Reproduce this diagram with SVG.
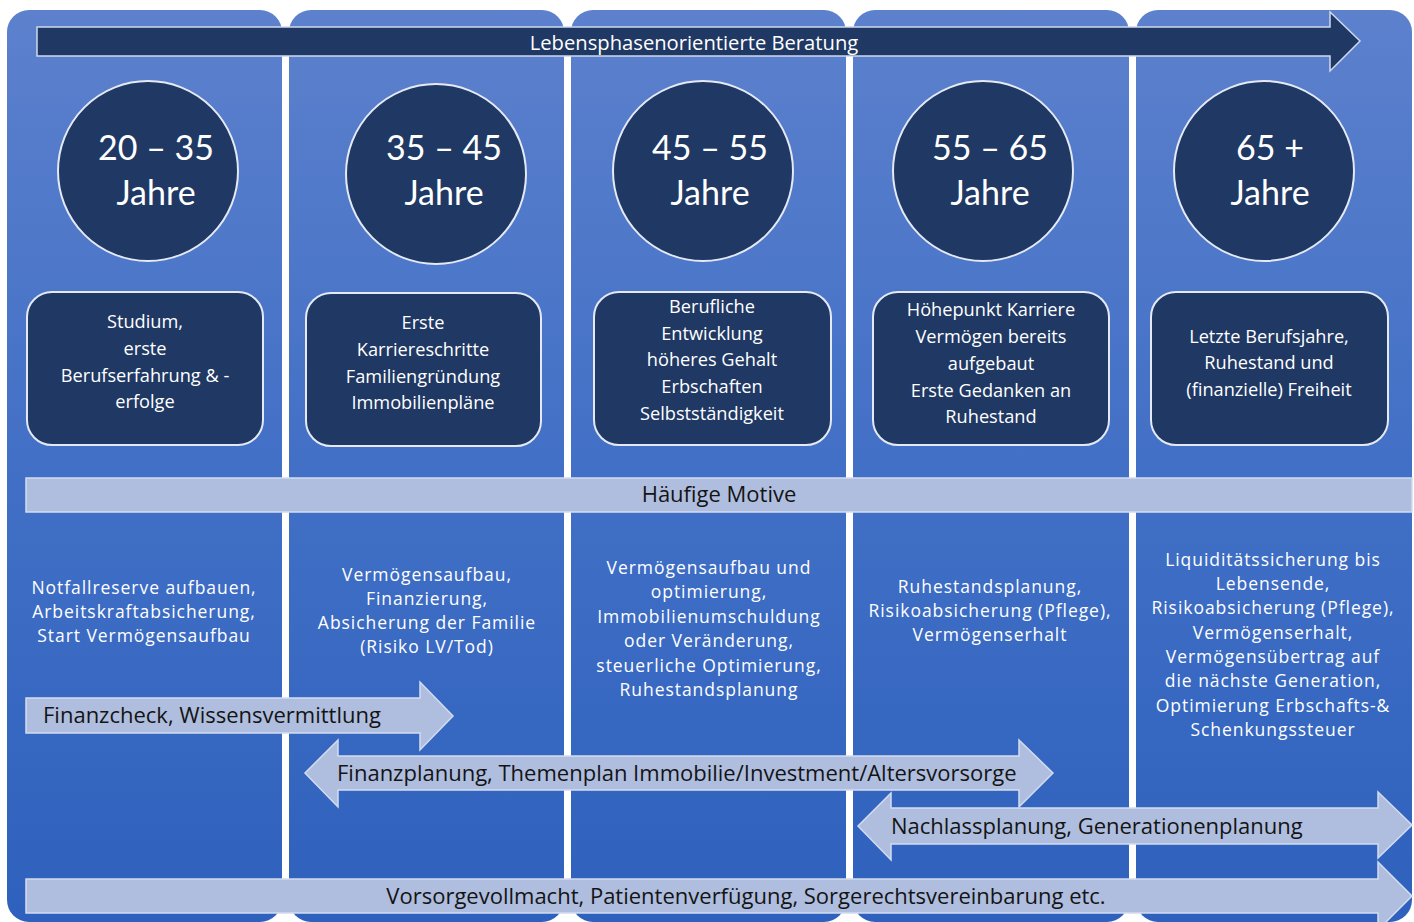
<svg xmlns="http://www.w3.org/2000/svg" width="1414" height="922" viewBox="0 0 1414 922">
<defs>
<linearGradient id="colg" gradientUnits="userSpaceOnUse" x1="0" y1="0" x2="0" y2="922">
<stop offset="0" stop-color="#5d81cd"/>
<stop offset="0.5" stop-color="#4270c6"/>
<stop offset="1" stop-color="#2e61bd"/>
</linearGradient>
<style>
.col{fill:url(#colg);}
.dark{fill:#1f3864;stroke:#e4e9f4;stroke-width:2;}
.light{fill:#afbedf;stroke:#d3dbef;stroke-width:1.5;}
text{font-family:"Open Sans","Noto Sans",sans-serif;}
.wt{fill:#ffffff;text-anchor:middle;}
.age{font-size:34px;font-family:Lato,"Open Sans",sans-serif;}
.box{font-size:18.2px;}
.mot{font-size:17.5px;letter-spacing:0.95px;}
.bk{fill:#141414;font-size:22px;}
.mid{text-anchor:middle;}
</style>
</defs>
<rect width="1414" height="922" fill="#ffffff"/>
<g id="columns">
<rect class="col" x="7" y="10" width="275" height="912" rx="22"/>
<rect class="col" x="289" y="10" width="275" height="912" rx="22"/>
<rect class="col" x="571" y="10" width="275" height="912" rx="22"/>
<rect class="col" x="853" y="10" width="276" height="912" rx="22"/>
<rect class="col" x="1136" y="10" width="276" height="912" rx="22"/>
</g>
<g id="header-arrow">
<path class="dark" style="stroke:#cfd8ec;stroke-width:1.5" d="M37,27 H1330 V12 L1360,41 L1330,71 V56 H37 Z"/>
<text class="wt" x="694" y="50" font-size="20.2">Lebensphasenorientierte Beratung</text>
</g>
<g id="age-20-35">
<circle class="dark" cx="148" cy="171" r="90"/>
<text class="wt age" x="156" y="160">20 – 35</text>
<text class="wt age" x="156" y="205">Jahre</text>
</g>
<g id="age-35-45">
<circle class="dark" cx="436" cy="174" r="90"/>
<text class="wt age" x="444" y="160">35 – 45</text>
<text class="wt age" x="444" y="205">Jahre</text>
</g>
<g id="age-45-55">
<circle class="dark" cx="703" cy="171" r="90"/>
<text class="wt age" x="710" y="160">45 – 55</text>
<text class="wt age" x="710" y="205">Jahre</text>
</g>
<g id="age-55-65">
<circle class="dark" cx="983" cy="171" r="90"/>
<text class="wt age" x="990" y="160">55 – 65</text>
<text class="wt age" x="990" y="205">Jahre</text>
</g>
<g id="age-65plus">
<circle class="dark" cx="1264" cy="171" r="90"/>
<text class="wt age" x="1270" y="160">65 +</text>
<text class="wt age" x="1270" y="205">Jahre</text>
</g>
<g id="phase-1">
<rect class="dark" x="27" y="292" width="236" height="153" rx="25"/>
<text class="wt box" x="145" y="328">Studium,</text>
<text class="wt box" x="145" y="355">erste</text>
<text class="wt box" x="145" y="382">Berufserfahrung &amp; -</text>
<text class="wt box" x="145" y="408">erfolge</text>
</g>
<g id="phase-2">
<rect class="dark" x="306" y="293" width="235" height="153" rx="25"/>
<text class="wt box" x="423" y="329">Erste</text>
<text class="wt box" x="423" y="356">Karriereschritte</text>
<text class="wt box" x="423" y="383">Familiengründung</text>
<text class="wt box" x="423" y="409">Immobilienpläne</text>
</g>
<g id="phase-3">
<rect class="dark" x="594" y="292" width="237" height="153" rx="25"/>
<text class="wt box" x="712" y="313">Berufliche</text>
<text class="wt box" x="712" y="340">Entwicklung</text>
<text class="wt box" x="712" y="366">höheres Gehalt</text>
<text class="wt box" x="712" y="393">Erbschaften</text>
<text class="wt box" x="712" y="420">Selbstständigkeit</text>
</g>
<g id="phase-4">
<rect class="dark" x="873" y="292" width="236" height="153" rx="25"/>
<text class="wt box" x="991" y="316">Höhepunkt Karriere</text>
<text class="wt box" x="991" y="343">Vermögen bereits</text>
<text class="wt box" x="991" y="370">aufgebaut</text>
<text class="wt box" x="991" y="397">Erste Gedanken an</text>
<text class="wt box" x="991" y="423">Ruhestand</text>
</g>
<g id="phase-5">
<rect class="dark" x="1151" y="292" width="237" height="153" rx="25"/>
<text class="wt box" x="1269" y="343">Letzte Berufsjahre,</text>
<text class="wt box" x="1269" y="369">Ruhestand und</text>
<text class="wt box" x="1269" y="396">(finanzielle) Freiheit</text>
</g>
<g id="motive-bar">
<rect class="light" x="26" y="478" width="1386" height="34"/>
<text class="bk mid" x="719" y="502">Häufige Motive</text>
</g>
<g id="motive-1">
<text class="wt mot" x="144" y="594">Notfallreserve aufbauen,</text>
<text class="wt mot" x="144" y="618">Arbeitskraftabsicherung,</text>
<text class="wt mot" x="144" y="642">Start Vermögensaufbau</text>
</g>
<g id="motive-2">
<text class="wt mot" x="427" y="581">Vermögensaufbau,</text>
<text class="wt mot" x="427" y="605">Finanzierung,</text>
<text class="wt mot" x="427" y="629">Absicherung der Familie</text>
<text class="wt mot" x="427" y="653">(Risiko LV/Tod)</text>
</g>
<g id="motive-3">
<text class="wt mot" x="709" y="574">Vermögensaufbau und</text>
<text class="wt mot" x="709" y="598">optimierung,</text>
<text class="wt mot" x="709" y="623">Immobilienumschuldung</text>
<text class="wt mot" x="709" y="647">oder Veränderung,</text>
<text class="wt mot" x="709" y="672">steuerliche Optimierung,</text>
<text class="wt mot" x="709" y="696">Ruhestandsplanung</text>
</g>
<g id="motive-4">
<text class="wt mot" x="990" y="593">Ruhestandsplanung,</text>
<text class="wt mot" x="990" y="617">Risikoabsicherung (Pflege),</text>
<text class="wt mot" x="990" y="641">Vermögenserhalt</text>
</g>
<g id="motive-5">
<text class="wt mot" x="1273" y="566">Liquiditätssicherung bis</text>
<text class="wt mot" x="1273" y="590">Lebensende,</text>
<text class="wt mot" x="1273" y="614">Risikoabsicherung (Pflege),</text>
<text class="wt mot" x="1273" y="639">Vermögenserhalt,</text>
<text class="wt mot" x="1273" y="663">Vermögensübertrag auf</text>
<text class="wt mot" x="1273" y="687">die nächste Generation,</text>
<text class="wt mot" x="1273" y="712">Optimierung Erbschafts-&amp;</text>
<text class="wt mot" x="1273" y="736">Schenkungssteuer</text>
</g>
<g id="connectors">
<g id="arrow-finanzcheck">
<path class="light" d="M26,698 H420 V682 L453,716 L420,750 V733 H26 Z"/>
<text class="bk" x="43" y="723">Finanzcheck, Wissensvermittlung</text>
</g>
<g id="arrow-finanzplanung">
<path class="light" d="M305,773 L338,740 V756 H1019 V740 L1053,773 L1019,807 V790 H338 V807 Z"/>
<text class="bk" x="337" y="781">Finanzplanung, Themenplan Immobilie/Investment/Altersvorsorge</text>
</g>
<g id="arrow-nachlass">
<path class="light" d="M858,826 L891,793 V808 H1378 V792 L1412,825 L1378,858 V844 H891 V860 Z"/>
<text class="bk" x="891" y="834">Nachlassplanung, Generationenplanung</text>
</g>
<g id="arrow-vorsorge">
<path class="light" d="M26,879 H1378 V862 L1412,896 L1378,930 V913 H26 Z"/>
<text class="bk mid" x="746" y="904">Vorsorgevollmacht, Patientenverfügung, Sorgerechtsvereinbarung etc.</text>
</g>
</g>
</svg>
